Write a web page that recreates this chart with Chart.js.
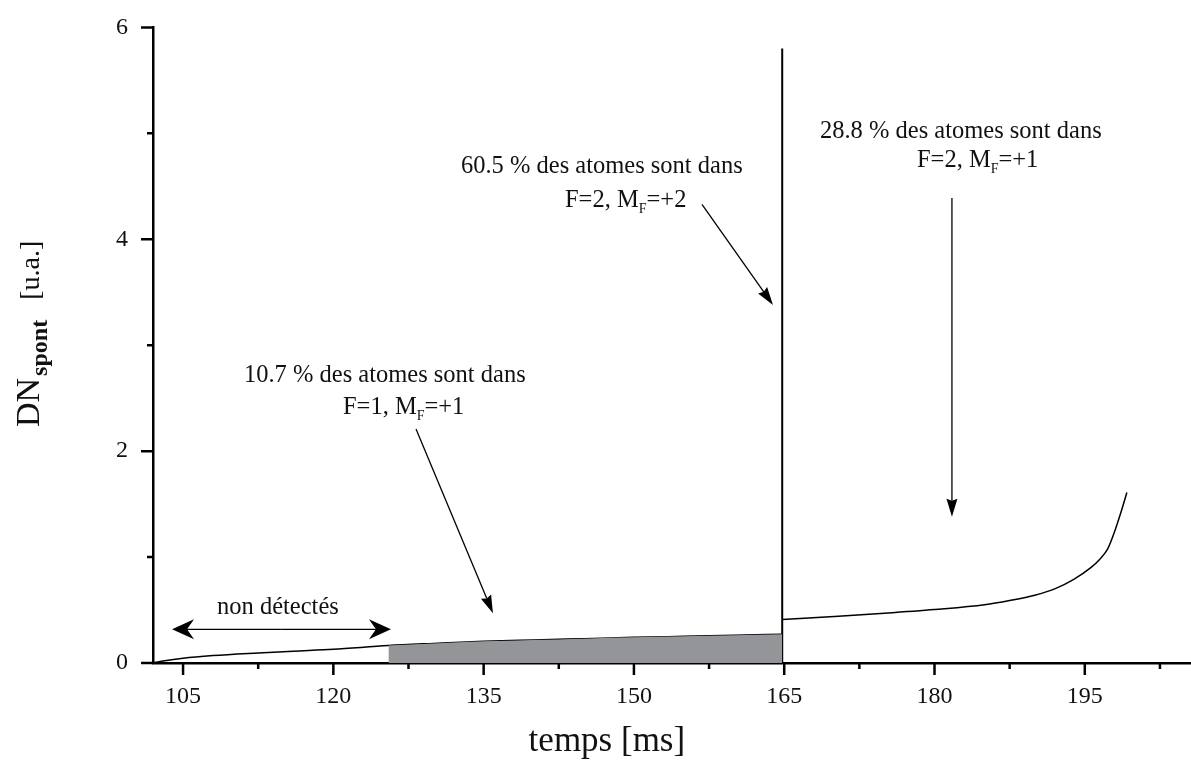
<!DOCTYPE html>
<html>
<head>
<meta charset="utf-8">
<script src="https://cdn.jsdelivr.net/npm/chart.js@4.4.1/dist/chart.umd.min.js"></script>
<style>
  html, body { margin: 0; padding: 0; background: #fff; }
  #wrap { width: 1191px; height: 760px; }
</style>
</head>
<body>
<div id="wrap"><canvas id="graf" width="1191" height="760"></canvas></div>
<script>
// temps [ms] / DN_spont [u.a.]
const temps1 = [102, 103, 105, 108, 112.5, 116, 120, 125.5, 130, 135, 140, 145, 150, 155, 160, 164.8];
const signal1 = [0, 0.018, 0.045, 0.07, 0.095, 0.112, 0.13, 0.165, 0.185, 0.205, 0.218, 0.23, 0.242, 0.252, 0.262, 0.272];
const temps2 = [164.8, 170, 175, 180, 185, 187.5, 190, 192, 193.9, 195.6, 196.5, 197.3, 197.9, 198.6, 199.2];
const signal2 = [0.41, 0.44, 0.47, 0.505, 0.55, 0.59, 0.64, 0.7, 0.79, 0.9, 0.98, 1.08, 1.22, 1.42, 1.61];
const pic = { x: 164.8, y: 5.8 };
const debutDetection = 125.5;

const xMajeurs = [105, 120, 135, 150, 165, 180, 195];
const xMineurs = [112.5, 127.5, 142.5, 157.5, 172.5, 187.5, 202.5];
const yMajeurs = [0, 2, 4, 6];
const yMineurs = [1, 3, 5];

const serif = "'Liberation Serif', 'Times New Roman', serif";

const pts1 = temps1.map((t, i) => ({ x: t, y: signal1[i] }));
const pts2 = temps2.map((t, i) => ({ x: t, y: signal2[i] }));
const ptsGris = pts1.filter(p => p.x >= debutDetection);

// petites fleches + textes
function fleche(ctx, x1, y1, x2, y2, long, demi, creux) {
  const a = Math.atan2(y2 - y1, x2 - x1);
  ctx.beginPath();
  ctx.moveTo(x1, y1);
  ctx.lineTo(x2 - Math.cos(a) * (long - creux), y2 - Math.sin(a) * (long - creux));
  ctx.stroke();
  ctx.save();
  ctx.translate(x2, y2);
  ctx.rotate(a);
  ctx.beginPath();
  ctx.moveTo(0, 0);
  ctx.lineTo(-long, -demi);
  ctx.lineTo(-long + creux, 0);
  ctx.lineTo(-long, demi);
  ctx.closePath();
  ctx.fill();
  ctx.restore();
}

function texteIndice(ctx, x, y, avant, indice, apres) {
  ctx.font = "24.5px " + serif;
  ctx.textBaseline = "middle";
  ctx.textAlign = "left";
  ctx.fillText(avant, x, y);
  let w = ctx.measureText(avant).width;
  ctx.font = "14px " + serif;
  ctx.fillText(indice, x + w, y + 9);
  w += ctx.measureText(indice).width;
  ctx.font = "24.5px " + serif;
  ctx.fillText(apres, x + w, y);
}

const dessins = {
  id: "dessins",
  afterDraw(chart) {
    const { ctx, scales: { x, y }, chartArea } = chart;
    const X = v => x.getPixelForValue(v);
    const Y = v => y.getPixelForValue(v);
    ctx.save();
    ctx.strokeStyle = "#000";
    ctx.fillStyle = "#000";

    // graduations
    ctx.lineWidth = 2.5;
    ctx.beginPath();
    xMajeurs.forEach(v => { ctx.moveTo(X(v), chartArea.bottom); ctx.lineTo(X(v), chartArea.bottom + 12); });
    xMineurs.forEach(v => { ctx.moveTo(X(v), chartArea.bottom); ctx.lineTo(X(v), chartArea.bottom + 6); });
    yMajeurs.forEach(v => { ctx.moveTo(chartArea.left, Y(v)); ctx.lineTo(chartArea.left - 12, Y(v)); });
    yMineurs.forEach(v => { ctx.moveTo(chartArea.left, Y(v)); ctx.lineTo(chartArea.left - 6, Y(v)); });
    ctx.stroke();

    // fleches
    ctx.lineWidth = 1.3;
    fleche(ctx, X(128.25), Y(2.21), X(135.93), Y(0.47), 18, 5.5, 2);
    fleche(ctx, X(156.79), Y(4.33), X(163.88), Y(3.38), 18, 5.5, 2);
    fleche(ctx, X(181.74), Y(4.39), X(181.74), Y(1.38), 18, 5.5, 2);
    fleche(ctx, X(114.8), Y(0.318), X(103.9), Y(0.318), 22, 10, 7);
    fleche(ctx, X(114.8), Y(0.318), X(125.75), Y(0.318), 22, 10, 7);

    // textes
    ctx.fillStyle = "#111";
    texteIndice(ctx, X(111.08), Y(2.715), "10.7 % des atomes sont dans", "", "");
    texteIndice(ctx, X(120.96), Y(2.415), "F=1, M", "F", "=+1");
    texteIndice(ctx, X(132.74), Y(4.69), "60.5 % des atomes sont dans", "", "");
    texteIndice(ctx, X(143.12), Y(4.37), "F=2, M", "F", "=+2");
    texteIndice(ctx, X(168.57), Y(5.017), "28.8 % des atomes sont dans", "", "");
    texteIndice(ctx, X(178.25), Y(4.746), "F=2, M", "F", "=+1");
    ctx.textAlign = "center";
    ctx.fillText("non détectés", X(114.47), Y(0.524));

    // titres des axes
    ctx.font = "35px " + serif;
    ctx.fillText("temps [ms]", X(147.3), chartArea.bottom + 79);

    ctx.save();
    ctx.translate(39, 427);
    ctx.rotate(-Math.PI / 2);
    ctx.textAlign = "left";
    ctx.textBaseline = "alphabetic";
    ctx.font = "34px " + serif;
    ctx.fillText("DN", 0, 0);
    let w = ctx.measureText("DN").width + 2;
    ctx.font = "bold 24px " + serif;
    ctx.fillText("spont", w, 8);
    w += ctx.measureText("spont").width + 20;
    ctx.font = "28px " + serif;
    ctx.fillText("[u.a.]", w, 0);
    ctx.restore();

    ctx.restore();
  }
};

const ligne = { borderColor: "#000", borderWidth: 1.5, pointRadius: 0, fill: false };

new Chart(document.getElementById("graf"), {
  type: "line",
  data: {
    datasets: [
      { data: ptsGris, fill: "origin", backgroundColor: "#939598", borderWidth: 0, pointRadius: 0, cubicInterpolationMode: "monotone" },
      { ...ligne, data: pts1, cubicInterpolationMode: "monotone" },
      { ...ligne, data: pts2, cubicInterpolationMode: "monotone" },
      { ...ligne, borderWidth: 2, data: [{ x: pic.x, y: 0 }, { x: pic.x, y: pic.y }] }
    ]
  },
  options: {
    responsive: false,
    animation: false,
    layout: { padding: { top: 22, right: 0, left: 0, bottom: 0 } },
    plugins: { legend: { display: false }, tooltip: { enabled: false } },
    scales: {
      x: {
        type: "linear", min: 102, max: 205.6,
        afterBuildTicks: s => { s.ticks = xMajeurs.map(v => ({ value: v })); },
        afterFit: s => { s.height = 97; },
        grid: { display: false, drawTicks: true, tickLength: 12 },
        border: { display: true, color: "#000", width: 2.5 },
        ticks: { padding: 7, color: "#111", maxRotation: 0, autoSkip: false, font: { family: serif, size: 24 } }
      },
      y: {
        type: "linear", min: 0, max: 6,
        afterBuildTicks: s => { s.ticks = yMajeurs.map(v => ({ value: v })); },
        afterFit: s => { s.width = 153; },
        grid: { display: false, drawTicks: true, tickLength: 12 },
        border: { display: true, color: "#000", width: 2.5 },
        ticks: { padding: 13, color: "#111", font: { family: serif, size: 24 } }
      }
    }
  },
  plugins: [dessins]
});
</script>
</body>
</html>
